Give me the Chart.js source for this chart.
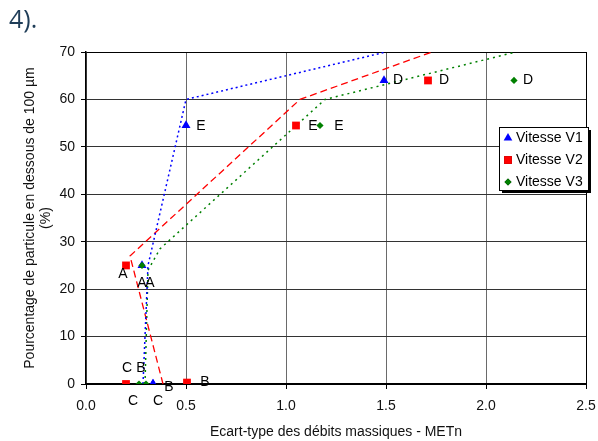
<!DOCTYPE html>
<html>
<head>
<meta charset="utf-8">
<script src="https://cdn.jsdelivr.net/npm/chart.js@4"></script>
<style>
    body { margin: 0; background: #fff; }
    #wrap { position: relative; width: 598px; height: 441px; }
    #num { position: absolute; left: 9px; top: 0px; font: 25px "Open Sans", "Noto Sans", sans-serif; color: #1f3d58; line-height: 36px; }
</style>
</head>
<body>
<div id="wrap">
    <canvas id="chart" width="598" height="441"></canvas>
    <div id="num">4).</div>
</div>
<script>
// Measured points (A..E) for each speed
const pointLabels = ["A", "B", "C", "D", "E"];
const v1X = [0.28, 0.335, 0.335, 1.49, 0.5];
const v1Y = [25, 0, 0, 64, 54.5];
const v2X = [0.2, 0.505, 0.2, 1.71, 1.05];
const v2Y = [25, 0.3, 0, 64, 54.5];
const v3X = [0.28, 0.265, 0.3, 2.14, 1.17];
const v3Y = [25, 0, 0, 64, 54.5];

// Guide lines
const line1X = [0.285, 0.31, 0.5, 1.5];
const line1Y = [0, 25, 60, 70];
const line2X = [0.385, 0.22, 1.07, 1.73];
const line2Y = [0, 27, 60, 70];
const line3X = [0.295, 0.31, 0.37, 1.195, 2.15];
const line3Y = [0, 24, 28.5, 60, 70];

const xTicks = [0, 0.5, 1, 1.5, 2, 2.5];
const yTicks = [0, 10, 20, 30, 40, 50, 60, 70];
const seriesNames = ["Vitesse V1", "Vitesse V2", "Vitesse V3"];

function toPoints(xs, ys) {
    return xs.map((x, i) => ({ x: x, y: ys[i] }));
}

const BLUE = "#0000ff";
const RED = "#ff0000";
const GREEN = "#008000";
const FONT = "'Liberation Sans', Arial, sans-serif";

// label offsets in px (dx, dy) relative to each point
const labelOffsets = {
    v1: [[8, 18], [16, 3], [5, 17], [14, 0], [15, 1]],
    v2: [[-3, 9], [18, 0], [1, -16], [16, 0], [17, 1]],
    v3: [[0, 18], [2, -16], [-13, 17], [14, 0], [19, 1]]
};

const pointLabelsPlugin = {
    id: "pointLabels",
    afterDatasetsDraw(chart) {
        const c = chart.ctx;
        c.save();
        c.font = "14px " + FONT;
        c.fillStyle = "#000";
        c.textAlign = "center";
        c.textBaseline = "middle";
        chart.data.datasets.forEach((ds, di) => {
            if (!ds.key) return;
            const meta = chart.getDatasetMeta(di);
            meta.data.forEach((pt, i) => {
                const off = labelOffsets[ds.key][i];
                c.fillText(pointLabels[i], pt.x + off[0], pt.y + off[1]);
            });
        });
        c.restore();
    }
};

const legendPlugin = {
    id: "boxLegend",
    afterDraw(chart) {
        const c = chart.ctx;
        const left = 499, top = 127, w = 89, h = 63;
        c.save();
        c.fillStyle = "#000";
        c.fillRect(left + 3, top + 3, w, h);
        c.fillStyle = "#fff";
        c.fillRect(left, top, w, h);
        c.strokeStyle = "#000";
        c.lineWidth = 1;
        c.strokeRect(left + 0.5, top + 0.5, w, h);
        const styles = [["triangle", BLUE, 5], ["rect", RED, 5.5], ["rectRot", GREEN, 3.5]];
        c.font = "14px " + FONT;
        c.textBaseline = "middle";
        seriesNames.forEach((name, i) => {
            const y = top + 11 + i * 22;
            Chart.helpers.drawPoint(c, { pointStyle: styles[i][0], radius: styles[i][2], borderWidth: 0 }, 508, y);
            c.fillStyle = styles[i][1];
            c.fill();
            c.fillStyle = "#000";
            c.fillText(name, 516, y);
        });
        c.restore();
    }
};

const markerSet = (key, data, style, color, r, order) => ({
    key: key,
    data: data,
    pointStyle: style,
    pointRadius: r,
    pointBackgroundColor: color,
    pointBorderColor: color,
    pointBorderWidth: 0,
    showLine: false,
    order: order
});

const lineSet = (data, color, dash, width) => ({
    data: data,
    showLine: true,
    borderColor: color,
    borderWidth: width,
    borderDash: dash,
    pointRadius: 0,
    fill: false,
    order: 10
});

new Chart(document.getElementById("chart"), {
    type: "scatter",
    data: {
        datasets: [
            markerSet("v1", toPoints(v1X, v1Y), "triangle", BLUE, 5.2, 3),
            markerSet("v2", toPoints(v2X, v2Y), "rect", RED, 5.5, 2),
            markerSet("v3", toPoints(v3X, v3Y), "rectRot", GREEN, 3.6, 1),
            lineSet(toPoints(line1X, line1Y), BLUE, [2, 3], 1.5),
            lineSet(toPoints(line2X, line2Y), RED, [7, 4], 1.3),
            lineSet(toPoints(line3X, line3Y), GREEN, [2, 4], 1.5)
        ]
    },
    options: {
        responsive: false,
        animation: false,
        layout: { padding: { top: 52, right: 12, left: 0, bottom: 0 } },
        plugins: { legend: { display: false }, tooltip: { enabled: false } },
        scales: {
            x: {
                type: "linear",
                min: 0,
                max: 2.5,
                afterBuildTicks: s => { s.ticks = xTicks.map(v => ({ value: v })); },
                afterFit: s => { s.height = 57; s.paddingRight = 0; s.paddingLeft = 0; },
                ticks: {
                    callback: v => v.toFixed(1),
                    color: "#111",
                    font: { family: FONT, size: 14 },
                    padding: 9,
                    maxRotation: 0
                },
                grid: {
                    color: ctx => ctx.index === xTicks.length - 1 ? "#000" : "#6a6a6a",
                    lineWidth: 1,
                    tickLength: 5,
                    tickColor: "#000"
                },
                border: { color: "#000", width: 2 },
                title: {
                    display: true,
                    text: "Ecart-type des débits massiques - METn",
                    color: "#111",
                    font: { family: FONT, size: 14 },
                    padding: { top: 0, bottom: 0 }
                }
            },
            y: {
                min: 0,
                max: 70,
                afterBuildTicks: s => { s.ticks = yTicks.map(v => ({ value: v })); },
                afterFit: s => { s.width = 86; s.paddingTop = 0; s.paddingBottom = 0; },
                ticks: {
                    color: "#111",
                    font: { family: FONT, size: 14 },
                    padding: 6
                },
                grid: {
                    color: ctx => ctx.index === yTicks.length - 1 ? "#000" : "#333",
                    lineWidth: 1,
                    tickLength: 5,
                    tickColor: "#000"
                },
                border: { color: "#000", width: 1.5 },
                title: {
                    display: true,
                    text: ["Pourcentage de particule en dessous de 100 µm", "(%)"],
                    color: "#111",
                    font: { family: FONT, size: 14, lineHeight: 1.15 },
                    padding: { top: 22, bottom: 0 }
                }
            }
        }
    },
    plugins: [pointLabelsPlugin, legendPlugin]
});
</script>
</body>
</html>
